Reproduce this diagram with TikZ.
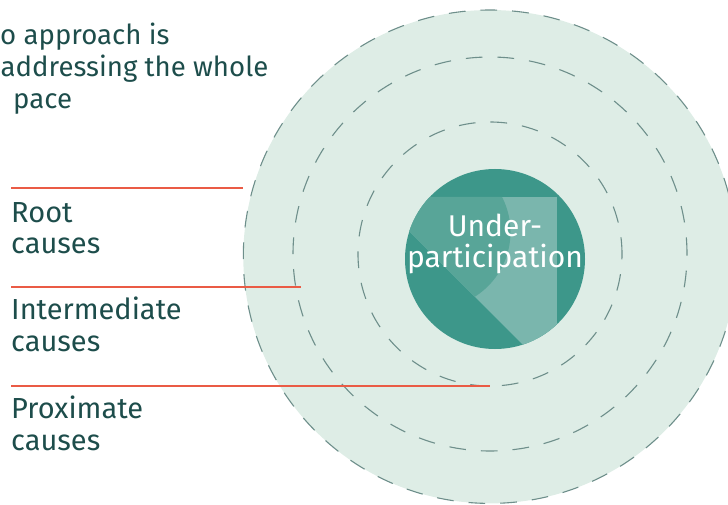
\documentclass[tikz,border=0pt]{standalone}
\usepackage{fontspec}
\setmainfont{Fira Sans}
\usepackage{xcolor}
\definecolor{rctext}{HTML}{1D4D4B}
\definecolor{rcred}{HTML}{EA5B45}
\definecolor{rcmint}{HTML}{DEEDE6}
\definecolor{rcdash}{HTML}{6E8F8B}
\definecolor{rccore}{HTML}{3D978A}
\definecolor{rcmid}{HTML}{58A598}
\definecolor{rclight}{HTML}{7AB6AD}
\usepackage{tikz}
\usetikzlibrary{calc}
\pgfkeys{tikz/rcringenv/.style={x=1pt,y=-1pt}}
\pgfkeys{tikz/rcring/.style={draw=rcdash,line width=1.1pt,dash pattern=on 16.7pt off 15pt}}
\pgfkeys{tikz/rclabel/.style={anchor=base west,align=left,inner sep=0pt,text=rctext,font=\fontsize{29}{31.5}\selectfont}}
\pgfkeys{tikz/rcintro/.style={rclabel,font=\fontsize{27.6}{32}\selectfont}}
\pgfkeys{tikz/rccoretext/.style={anchor=base,align=center,inner sep=0pt,text=white,font=\fontsize{30}{31}\selectfont}}
\pgfkeys{tikz/rcrule/.style={draw=rcred,line width=1.3pt}}
\newcommand*\rcdivider[3]{
    \coordinate (#1-start) at (11,#2);
    \draw[rcrule] (#1-start) -- (#3);
}

\begin{document}
\begin{tikzpicture}[rcringenv]
    \useasboundingbox (0,0) rectangle (728,505);
    \clip (0,0) rectangle (728,505);
    % rings
    \fill[rcmint] (490,256.7) circle[radius=246.7pt];
    \draw[rcring] (490,256.7) circle[radius=246.7pt];
    \draw[rcring] (490,254) circle[radius=197pt];
    \draw[rcring] (490,254) circle[radius=132pt];
    \coordinate (root-end) at (243,188);
    \coordinate (intermediate-end) at (301,287);
    \coordinate (proximate-end) at (490,386);
    % core
    \fill[rccore] (495,259) circle[radius=90pt];
    \begin{scope}
        \clip (495,259) circle[radius=90pt];
        \clip (375,197) -- (557,197) -- (557,379) -- cycle;
        \fill[rclight] (375,197) rectangle (557,379);
        \fill[rcmid] (434,232) circle[radius=76.5pt];
    \end{scope}
    \node[rccoretext] (core) at (495,267) {Under-\\participation};
    % left text
    \node[rcintro] (intro-a) at (0,45) {o approach is};
    \node[rcintro] (intro-b) at (0.5,77) {addressing the whole};
    \node[rcintro] (intro-c) at (13,109) {pace};
    \rcdivider{root}{188}{root-end}
    \rcdivider{intermediate}{287}{intermediate-end}
    \rcdivider{proximate}{386}{proximate-end}
    \node[rclabel] (root) at (11,253.5) {Root\\causes};
    \node[rclabel] (intermediate) at (11,351) {Intermediate\\causes};
    \node[rclabel] (proximate) at (11,450) {Proximate\\causes};
\end{tikzpicture}
\end{document}
